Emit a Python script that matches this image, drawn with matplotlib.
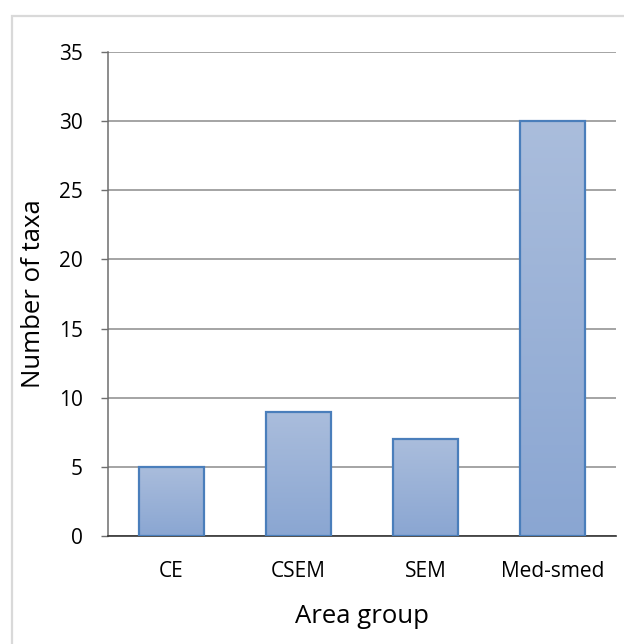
import matplotlib
matplotlib.use("Agg")
import matplotlib.pyplot as plt
import numpy as np
from matplotlib.patches import Rectangle
from matplotlib.colors import LinearSegmentedColormap

categories = ["CE", "CSEM", "SEM", "Med-smed"]
values = [5, 9, 7, 30]
yticks = [0, 5, 10, 15, 20, 25, 30, 35]

plt.rcParams['font.family'] = ['Open Sans', 'DejaVu Sans']

fig = plt.figure(figsize=(6.24, 6.44), dpi=100)
ax = fig.add_axes([108/624, 1-536/644, 508/624, 484/644])

# outer chart border
fig.patches.append(Rectangle((11.5/624, -0.1), 1.2, (644-16.5)/644 + 0.1,
                             transform=fig.transFigure, fill=False,
                             edgecolor='#D9D9D9', linewidth=1.6, zorder=0))

x = np.arange(len(categories))
bars = ax.bar(x, values, width=0.51, color='none', edgecolor='#4A7EBB',
              linewidth=1.6, zorder=3)

cmap = LinearSegmentedColormap.from_list('g', ['#8AA6D2', '#AABDDC'])
grad = np.linspace(0, 1, 256).reshape(-1, 1)
for b in bars:
    xb, yb = b.get_x(), b.get_y()
    w, h = b.get_width(), b.get_height()
    im = ax.imshow(grad, extent=[xb, xb + w, yb, yb + h], origin='lower',
                   cmap=cmap, aspect='auto', zorder=2)
    im.set_clip_path(b)

ax.set_xlim(-0.5, len(categories) - 0.5)
ax.set_ylim(0, 35)
ax.set_yticks(yticks)
ax.set_xticks(x)
ax.set_xticklabels(categories)
ax.yaxis.grid(True, color='#8C8C8C', linewidth=1.1, zorder=1)
ax.set_axisbelow(True)

for s in ['top', 'right']:
    ax.spines[s].set_visible(False)
ax.spines['left'].set_color('#6E6E6E')
ax.spines['bottom'].set_color('#333333')
ax.spines['left'].set_linewidth(1.1)
ax.spines['bottom'].set_linewidth(1.2)

ax.tick_params(axis='y', length=5, width=1, color='#6E6E6E', labelsize=15,
               pad=13, labelcolor='black')
ax.tick_params(axis='x', length=0, labelsize=15, pad=18, labelcolor='black')

ax.set_xlabel("Area group", fontsize=18.5, labelpad=15.5)
ax.set_ylabel("Number of taxa", fontsize=18.5, labelpad=9)

fig.savefig("out.png", dpi=100)
